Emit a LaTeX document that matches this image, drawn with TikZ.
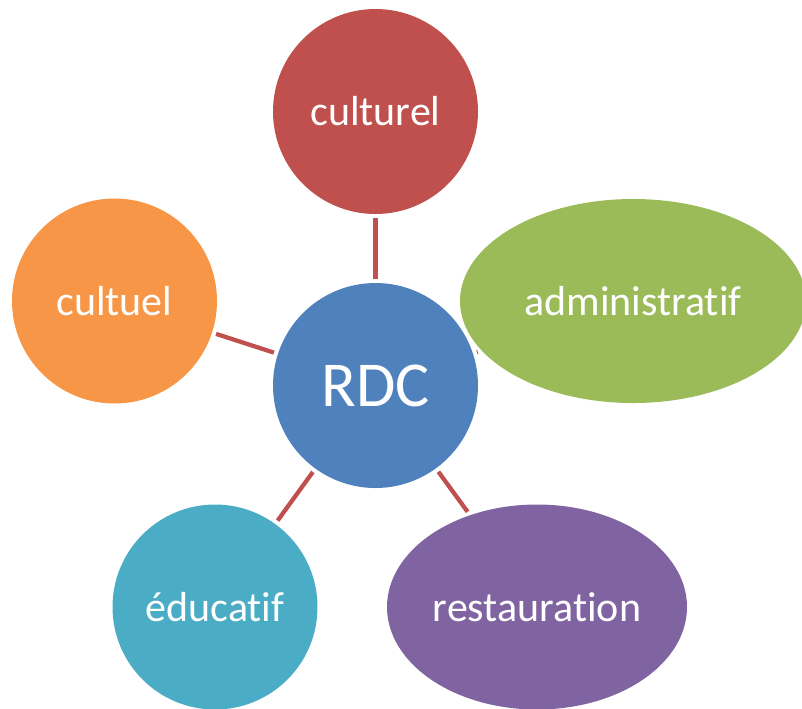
\documentclass[tikz,border=0pt]{standalone}
\usepackage{fontspec}
\setmainfont[Ligatures={NoCommon}]{Carlito}
\usepackage{tikz}
\usetikzlibrary{shapes.geometric}

\definecolor{culturelRed}{HTML}{C0504D}
\definecolor{cultuelOrange}{HTML}{F79646}
\definecolor{adminGreen}{HTML}{9BBB59}
\definecolor{rdcBlue}{HTML}{4F81BD}
\definecolor{educTeal}{HTML}{4BACC6}
\definecolor{restoPurple}{HTML}{8064A2}

\begin{document}
\begin{tikzpicture}[x=0.75pt,y=0.75pt,yscale=-1,xscale=1,
  bubble/.style={circle,inner sep=0pt,minimum size=153.75pt,text=white,font=\fontsize{31.5}{37}\selectfont},
  oval/.style={ellipse,inner sep=0pt,text=white,font=\fontsize{31.5}{37}\selectfont},
  link/.style={draw=culturelRed,line width=3.2pt,shorten <=3pt,shorten >=3pt}]
\useasboundingbox (0,0) rectangle (802,708);

%Shape: Circle
\node (rdc) at (375.5,385.5) [bubble,fill=rdcBlue,font=\fontsize{48}{56}\selectfont] {RDC};
%Shape: Circle
\node (culturel) at (375.5,111.5) [bubble,fill=culturelRed] {culturel};
%Shape: Circle
\node (cultuel) at (114.5,301) [bubble,fill=cultuelOrange] {cultuel};
%Shape: Ellipse
\node (admin) at (633,301) [oval,fill=adminGreen,minimum width=259.5pt,minimum height=153pt] {administratif};
%Shape: Circle
\node (educ) at (215,607) [bubble,fill=educTeal] {éducatif};
%Shape: Ellipse
\node (resto) at (537,607) [oval,fill=restoPurple,minimum width=225pt,minimum height=153.75pt] {restauration};

%Straight Lines
\draw [link] (rdc) -- (culturel);
%Straight Lines
\draw [link] (rdc) -- (cultuel);
%Straight Lines
\draw [link] (rdc) -- (admin);
%Straight Lines
\draw [link] (rdc) -- (educ);
%Straight Lines
\draw [link] (rdc) -- (resto);

\end{tikzpicture}
\end{document}
